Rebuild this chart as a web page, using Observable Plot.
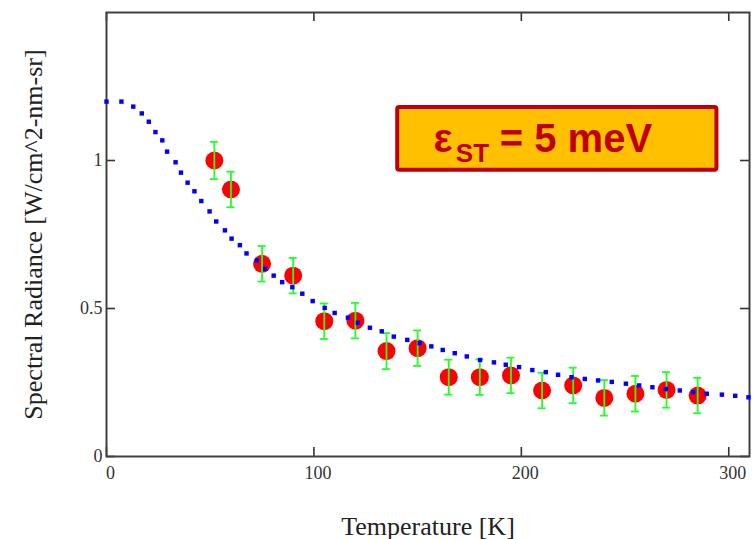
<!DOCTYPE html>
<html><head><meta charset="utf-8">
<script src="https://cdn.jsdelivr.net/npm/d3@7"></script>
<script src="https://cdn.jsdelivr.net/npm/@observablehq/plot@0.6"></script>
<style>body{margin:0;background:#fff}</style>
</head><body><div id="chart"></div>
<script>
// measured data points (red) with error bars (green)
const temps = [52, 60, 75, 90, 105, 120, 135, 150, 165, 180, 195, 210, 225, 240, 255, 270, 285];
const radiance = [1.000, 0.902, 0.651, 0.611, 0.457, 0.459, 0.356, 0.366, 0.268, 0.268, 0.274, 0.223, 0.240, 0.198, 0.212, 0.225, 0.206];
const errors = [0.063, 0.060, 0.060, 0.060, 0.060, 0.060, 0.061, 0.060, 0.059, 0.060, 0.060, 0.060, 0.060, 0.060, 0.060, 0.060, 0.060];
// model curve (blue dotted)
const curveT = [0, 7.2, 12.9, 17.0, 20.4, 23.6, 26.9, 29.2, 33.3, 35.9, 39.1, 42.4, 45.7, 49.7, 52.9, 57.1, 60.3, 64.3, 67.5, 72.5, 76.5, 80.6, 84.7, 89.6, 94.4, 99.4, 105.2, 110.0, 116.4, 121.2, 127.0, 132.7, 138.5, 145.0, 151.0, 156.6, 162.1, 167.9, 173.7, 180.1, 186.8, 192.5, 198.9, 205.3, 211.8, 217.7, 224.2, 230.6, 237.0, 243.6, 250.4, 256.8, 263.2, 269.7, 276.4, 282.8, 289.4, 296.7, 303.1, 309.5];
const curveR = [1.199, 1.199, 1.182, 1.159, 1.131, 1.096, 1.068, 1.030, 0.994, 0.959, 0.925, 0.896, 0.863, 0.828, 0.794, 0.764, 0.736, 0.714, 0.686, 0.662, 0.634, 0.611, 0.589, 0.572, 0.550, 0.525, 0.502, 0.485, 0.469, 0.452, 0.435, 0.423, 0.405, 0.394, 0.383, 0.372, 0.360, 0.349, 0.338, 0.326, 0.318, 0.310, 0.302, 0.292, 0.285, 0.276, 0.268, 0.262, 0.257, 0.252, 0.246, 0.240, 0.234, 0.228, 0.223, 0.217, 0.212, 0.209, 0.205, 0.200];
const xTicks = [0, 100, 200, 300];
const yTicks = [0, 0.5, 1];
const yTickLabels = ["0", "0.5", "1"];
const xLabel = "Temperature [K]";
const yLabel = "Spectral Radiance [W/cm^2-nm-sr]";
// annotation box
const boxes = [{x1: 140.4, x2: 294.3, y1: 0.967, y2: 1.179}];
const boxTextMain = [{x: 157.7, y: 1.028, t: "ε"}, {x: 189.6, y: 1.028, t: "= 5 meV"}];
const boxTextSub = [{x: 168.4, y: 0.994, t: "ST"}];

const points = temps.map((T, i) => ({T, R: radiance[i], e: errors[i]}));
const curve = curveT.map((T, i) => ({T, R: curveR[i]}));

const W = 753, H = 539, mL = 106, mR = 4, mT = 12, mB = 83;
const innerH = H - mT - mB, innerW = W - mL - mR;
const tickLen = 9;
const serif = "'Liberation Serif', 'Times New Roman', serif";

const chart = Plot.plot({
  width: W, height: H,
  marginLeft: mL, marginRight: mR, marginTop: mT, marginBottom: mB,
  style: {background: "white", fontFamily: serif, overflow: "visible"},
  x: {domain: [0, 310]},
  y: {domain: [0, 1.5]},
  marks: [
    // tick labels
    Plot.axisX({ticks: xTicks, tickSize: 0, tickPadding: 10, fontSize: 18, dx: 4, fill: "#333", label: null}),
    Plot.axisY({ticks: yTicks, tickFormat: (d) => yTickLabels[yTicks.indexOf(d)], tickSize: 0, tickPadding: 4, fontSize: 18, fill: "#333", label: null}),
    // inward ticks on all four sides
    Plot.ruleX(xTicks, {x: d => d, insetTop: innerH - tickLen, stroke: "#333", strokeWidth: 1.6}),
    Plot.ruleX(xTicks, {x: d => d, insetBottom: innerH - tickLen, stroke: "#333", strokeWidth: 1.6}),
    Plot.ruleY(yTicks, {y: d => d, insetRight: innerW - tickLen, stroke: "#333", strokeWidth: 1.6}),
    Plot.ruleY(yTicks, {y: d => d, insetLeft: innerW - tickLen, stroke: "#333", strokeWidth: 1.6}),
    Plot.frame({stroke: "#404040", strokeWidth: 2}),
    // axis labels
    Plot.text([xLabel], {frameAnchor: "bottom", dy: 78, lineAnchor: "bottom", textAnchor: "middle", text: d => d, fontSize: 26, fill: "#222"}),
    Plot.text([yLabel], {frameAnchor: "left", dx: -73, rotate: -90, textAnchor: "middle", lineAnchor: "middle", text: d => d, fontSize: 26, fill: "#222"}),
    // data
    Plot.dot(points, {x: "T", y: "R", r: 9, fill: "#ff0000", stroke: null}),
    Plot.ruleX(points, {x: "T", y1: d => d.R - d.e, y2: d => d.R + d.e, stroke: "#22ff22", strokeWidth: 1.8}),
    Plot.ruleY(points, {y: d => d.R - d.e, x1: "T", x2: "T", insetLeft: -4, insetRight: -4, stroke: "#22ff22", strokeWidth: 1.8}),
    Plot.ruleY(points, {y: d => d.R + d.e, x1: "T", x2: "T", insetLeft: -4, insetRight: -4, stroke: "#22ff22", strokeWidth: 1.8}),
    Plot.dot(curve, {x: "T", y: "R", symbol: "square", r: 2.5, fill: "#0000ff", stroke: null}),
    // annotation box
    Plot.rect(boxes, {x1: "x1", x2: "x2", y1: "y1", y2: "y2", fill: "#ffc000", stroke: "#c00000", strokeWidth: 4, rx: 2}),
    Plot.text(boxTextMain, {x: "x", y: "y", text: "t", textAnchor: "start", lineAnchor: "bottom", fontSize: 40, fontWeight: "bold", fontFamily: "'Liberation Sans', Arial, sans-serif", fill: "#c00000"}),
    Plot.text(boxTextSub, {x: "x", y: "y", text: "t", textAnchor: "start", lineAnchor: "bottom", fontSize: 26, fontWeight: "bold", fontFamily: "'Liberation Sans', Arial, sans-serif", fill: "#c00000"})
  ]
});
document.getElementById("chart").appendChild(chart);
</script>
</body></html>
